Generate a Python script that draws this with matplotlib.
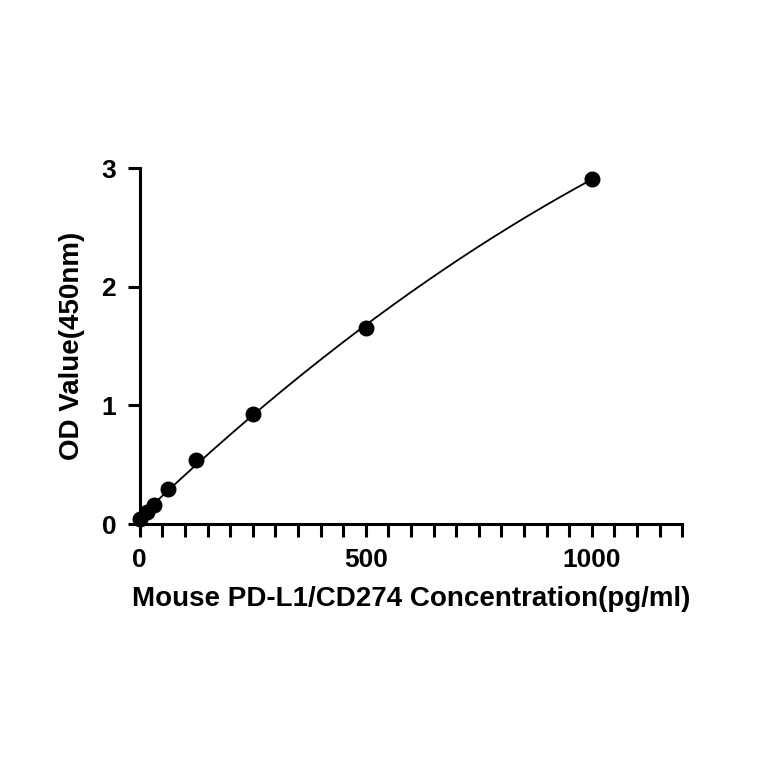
import numpy as np
import matplotlib.pyplot as plt
from matplotlib.ticker import MultipleLocator

plt.rcParams['font.family'] = ['Liberation Sans', 'DejaVu Sans']

conc = [0, 15.6, 31.25, 62.5, 125, 250, 500, 1000]
od = [0.04, 0.10, 0.16, 0.30, 0.54, 0.93, 1.65, 2.91]

fig = plt.figure(figsize=(7.64, 7.64), dpi=100)
ax = fig.add_axes([0.183, 0.314, 0.71, 0.466])

# smooth standard curve from a quadratic fit
coef = np.polyfit(conc, od, 2)
xs = np.linspace(0, 1000, 300)
ax.plot(xs, np.polyval(coef, xs), color='black', lw=1.3, zorder=2)
ax.scatter(conc, od, s=110, color='black', zorder=3, clip_on=False)

ax.set_xlim(0, 1200)
ax.set_ylim(0, 3)
ax.set_xticks([0, 500, 1000])
ax.xaxis.set_minor_locator(MultipleLocator(50))
ax.set_yticks([0, 1, 2, 3])
for s in ['top', 'right']:
    ax.spines[s].set_visible(False)
for s in ['left', 'bottom']:
    ax.spines[s].set_linewidth(2.2)
ax.tick_params(which='major', width=2.2, length=9, labelsize=19, pad=8)
ax.tick_params(which='minor', width=2.2, length=9)
for lab in ax.get_xticklabels() + ax.get_yticklabels():
    lab.set_fontweight('bold')

ax.set_xlabel('Mouse PD-L1/CD274 Concentration(pg/ml)', fontsize=20, fontweight='bold', labelpad=10)
ax.set_ylabel('OD Value(450nm)', fontsize=20, fontweight='bold', labelpad=12)

fig.savefig('out.png', dpi=100)
